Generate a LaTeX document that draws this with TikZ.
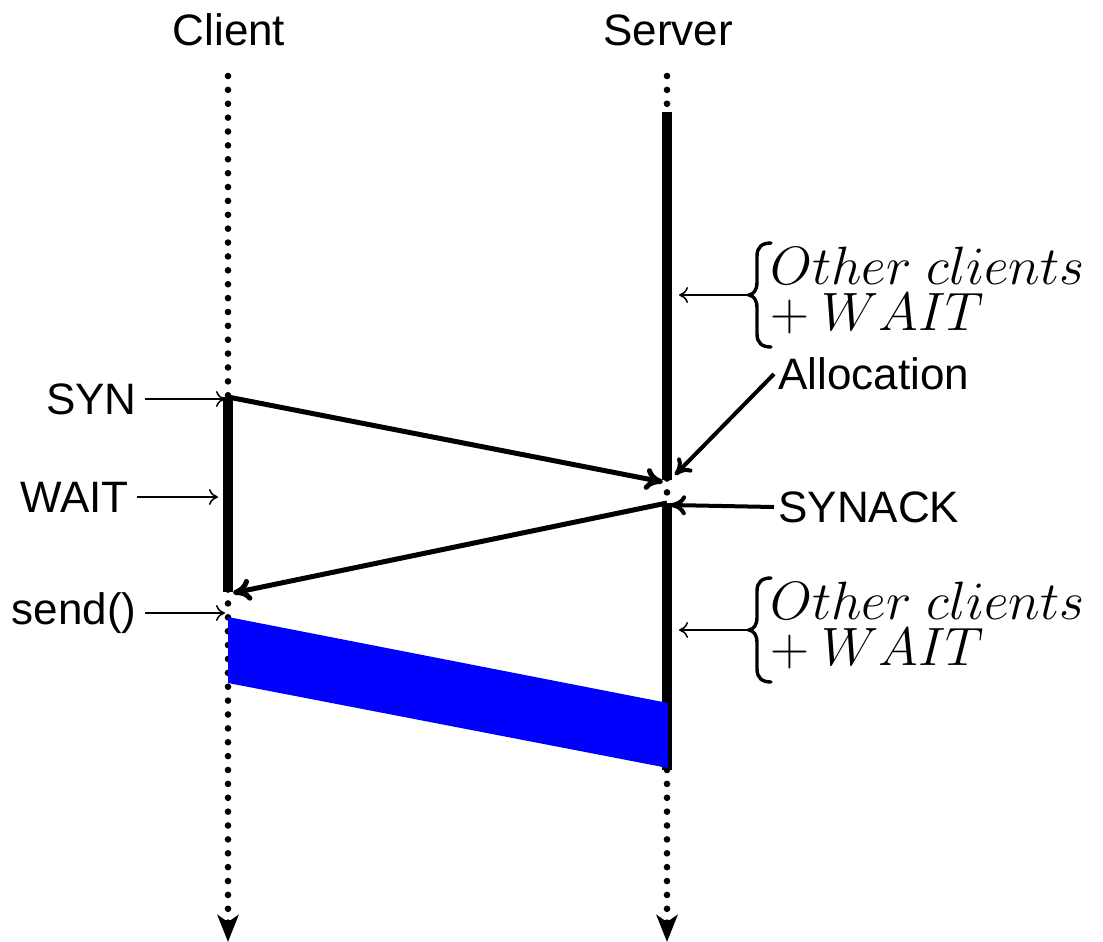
\documentclass[tikz,border=0pt]{standalone}
\usepackage{fix-cm}
\usepackage{fontspec}
\setmainfont{Liberation Sans}
\usetikzlibrary{arrows.meta}
\newcommand{\labelsize}{\fontsize{22}{26}\selectfont}
\newcommand{\annosize}{\fontsize{27}{23}\selectfont}
\newcommand{\othertxt}{$Other\ clients$}
\newcommand{\waittxt}{$+\mskip\medmuskip WAIT$}
\tikzset{
  lifeline/.style={line width=3.3pt, line cap=round, dash pattern=on 0pt off 6.94pt,
    -{Stealth[length=13.5pt,width=10.5pt,inset=3.5pt]}},
  activebar/.style={line width=5pt},
  msg/.style={line width=2.5pt, -{Computer Modern Rightarrow[length=9pt,width=11pt]}},
  pointer/.style={line width=2pt, -{Computer Modern Rightarrow[length=8pt,width=10pt]}},
  thinarrow/.style={line width=0.75pt, -{Computer Modern Rightarrow[length=4.5pt,width=8pt]}},
  lbl/.style={font=\labelsize, inner sep=0pt},
  mlbl/.style={font=\annosize, inner sep=0pt},
  bracestroke/.style={line width=1.7pt, line cap=round},
}
\begin{document}
\begin{tikzpicture}[x=0.5pt, y=-0.5pt]
\useasboundingbox (0,0) rectangle (1103,942);

% headers
\node[lbl, anchor=base] (client) at (229,45) {Client};
\node[lbl, anchor=base] (server) at (668,45) {Server};

% lifeline end points and bar limits
\coordinate (cTop) at (228,76);
\coordinate (cEnd) at (228,942);
\coordinate (sTop) at (667,76);
\coordinate (sEnd) at (667,942);
\coordinate (c1) at (228,397);
\coordinate (c2) at (228,592);
\coordinate (s1) at (667,112);
\coordinate (s2) at (667,480);
\coordinate (s3) at (667,503);
\coordinate (s4) at (667,770);

% dotted time axes
\draw[lifeline] (cTop) -- (cEnd);
\draw[lifeline] (sTop) -- (sEnd);

% busy periods
\draw[activebar] (c1) -- (c2);
\draw[activebar] (s1) -- (s2);
\draw[activebar] (s3) -- (s4);

% data transfer
\fill[blue] (228,617) -- (668,703) -- (668,768) -- (228,683) -- cycle;

% handshake messages
\coordinate (synTip) at (663,482);
\coordinate (ackTip) at (233,593);
\draw[msg] (c1) -- (synTip);
\draw[msg] (s3) -- (ackTip);

% client side labels
\node[lbl, anchor=east, inner xsep=4pt] (syn) at (145,399) {SYN};
\node[lbl, anchor=east, inner xsep=4pt] (wait) at (137,497) {WAIT};
\node[lbl, anchor=east, inner xsep=4pt] (send) at (145,613) {send()};
\coordinate (synP) at (225,399);
\coordinate (waitP) at (218,497);
\coordinate (sendP) at (225,613);
\draw[thinarrow] (syn.east) -- (synP);
\draw[thinarrow] (wait.east) -- (waitP);
\draw[thinarrow] (send.east) -- (sendP);

% server side labels
\node[lbl, anchor=west, inner xsep=2pt] (alloc) at (774,374) {Allocation};
\node[lbl, anchor=west, inner xsep=2pt] (synack) at (774,507) {SYNACK};
\coordinate (allocP) at (675,475);
\coordinate (synackP) at (670,505);
\draw[pointer] (alloc.west) -- (allocP);
\draw[pointer] (synack.west) -- (synackP);

% other clients, first period
\draw[bracestroke] (771,243) .. controls (762,243) and (757,247) .. (757,256)
  -- (757,282) .. controls (757,290) and (754,294) .. (749,295)
  .. controls (754,296) and (757,300) .. (757,308)
  -- (757,334) .. controls (757,343) and (762,347) .. (771,347);
\coordinate (bt1) at (749,295);
\node[mlbl, anchor=base west] (oc1) at (770,284) {\othertxt};
\node[mlbl, anchor=base west] (w1) at (770,330) {\waittxt};
\coordinate (o1) at (679,295);
\draw[thinarrow] (bt1) -- (o1);

% other clients, second period
\begin{scope}[shift={(0,335)}]
\draw[bracestroke] (771,243) .. controls (762,243) and (757,247) .. (757,256)
  -- (757,282) .. controls (757,290) and (754,294) .. (749,295)
  .. controls (754,296) and (757,300) .. (757,308)
  -- (757,334) .. controls (757,343) and (762,347) .. (771,347);
\coordinate (bt2) at (749,295);
\node[mlbl, anchor=base west] (oc2) at (770,284) {\othertxt};
\node[mlbl, anchor=base west] (w2) at (770,330) {\waittxt};
\coordinate (o2) at (679,295);
\draw[thinarrow] (bt2) -- (o2);
\end{scope}
\end{tikzpicture}
\end{document}
